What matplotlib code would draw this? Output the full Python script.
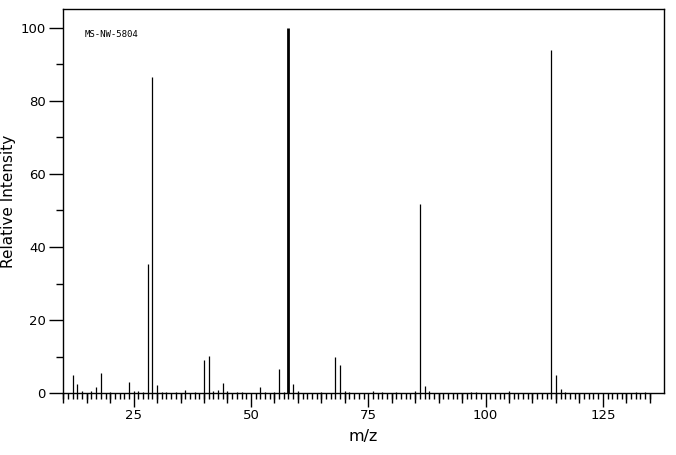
import numpy as np
import matplotlib.pyplot as plt
from matplotlib.ticker import MultipleLocator, FixedLocator

# peak list (m/z, relative intensity)
mz = [12, 13, 14, 16, 17, 18, 20, 24, 25, 26, 27, 28, 29, 30, 31, 32, 34,
      36, 38, 40, 41, 42, 43, 44, 45, 47, 48, 52, 53, 55, 56, 57, 58, 59,
      60, 65, 68, 69, 70, 71, 76, 78, 81, 85, 86, 87, 88, 97, 98, 105,
      114, 115, 116, 117, 132, 134]
intensity = [5.0, 2.5, 0.7, 0.6, 1.7, 5.6, 0.3, 3.1, 0.6, 0.6, 0.4, 35.3,
             86.4, 2.3, 0.3, 0.4, 0.4, 0.9, 0.3, 9.1, 10.2, 0.6, 0.9, 2.8,
             0.6, 0.3, 0.3, 1.7, 0.3, 0.3, 6.6, 0.3, 100.0, 2.5, 0.6, 0.3,
             10.0, 7.8, 0.6, 0.3, 0.5, 0.3, 0.3, 0.6, 51.7, 2.0, 0.6, 0.4,
             0.4, 0.5, 93.8, 5.0, 1.2, 0.3, 0.3, 0.3]
sample_id = 'MS-NW-5804'

fig = plt.figure(figsize=(6.76, 4.55), dpi=100)
ax = fig.add_axes([0.0936, 0.1356, 0.8884, 0.844])

mz = np.array(mz)
intensity = np.array(intensity)
base = intensity == intensity.max()
ax.vlines(mz[~base], 0, intensity[~base], color='black', linewidth=0.9)
ax.vlines(mz[base], 0, intensity[base], color='black', linewidth=2.0)

ax.set_xlim(10, 138)
ax.set_ylim(0, 105)

# x ticks: long at 25s, short at every unit, medium at 5s (secondary axis)
ax.xaxis.set_major_locator(MultipleLocator(25))
ax.xaxis.set_minor_locator(FixedLocator(np.arange(10, 136)))
ax.tick_params(axis='x', which='major', length=10, width=1, pad=1.5,
               labelsize=9.5, direction='out')
ax.tick_params(axis='x', which='minor', length=4, width=1, direction='out')
sec = ax.secondary_xaxis('bottom')
sec.set_xticks([v for v in range(10, 136, 5) if v % 25 != 0])
sec.tick_params(axis='x', length=7, width=1, labelbottom=False)
sec.spines['bottom'].set_visible(False)

ax.yaxis.set_major_locator(MultipleLocator(20))
ax.yaxis.set_minor_locator(MultipleLocator(10))
ax.tick_params(axis='y', which='major', length=10, width=1, pad=2.5,
               labelsize=9.5)
ax.tick_params(axis='y', which='minor', length=5, width=1)

for s in ax.spines.values():
    s.set_linewidth(1)

ax.set_xlabel('m/z', fontsize=11.5, labelpad=5)
ax.set_ylabel('Relative Intensity', fontsize=11, labelpad=3)

ax.text(0.035, 0.935, sample_id, transform=ax.transAxes, fontsize=6.5,
        family='DejaVu Sans Mono', ha='left', va='center')

fig.savefig('out.png', dpi=100)
